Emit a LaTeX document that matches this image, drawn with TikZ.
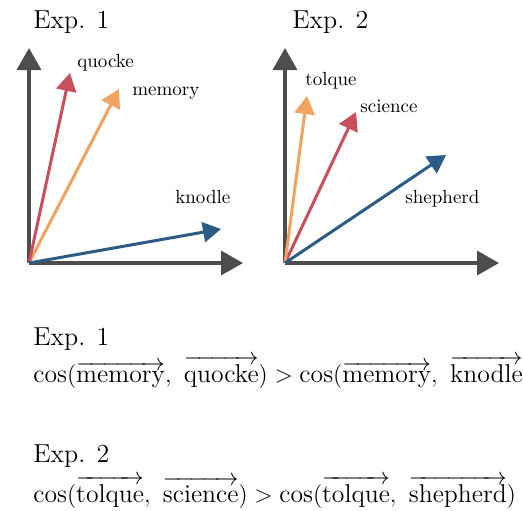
\documentclass[tikz,border=0pt]{standalone}
\usepackage{amsmath}
\usepackage{fontspec}
\usetikzlibrary{arrows.meta}
\definecolor{cred}{HTML}{C8505D}
\definecolor{corange}{HTML}{F0A35E}
\definecolor{cblue}{HTML}{2C5C85}
\definecolor{caxis}{HTML}{4D4D4D}
\newcommand{\wv}[1]{\overrightarrow{\text{#1}}}
\tikzset{
  axis/.style={draw=caxis, line width=1.75pt, -{Triangle[width=12pt,length=11pt]}, caxis},
  vec/.style={line width=1.5pt, -{Triangle[width=10pt,length=9pt]}},
  lbl/.style={anchor=base west, inner sep=0pt, font=\fontsize{9.5}{11}\selectfont},
  ttl/.style={anchor=base west, inner sep=0pt, font=\fontsize{13}{15}\selectfont},
  frm/.style={anchor=base west, inner sep=0pt, font=\fontsize{12.85}{15}\selectfont},
}
\begin{document}
\begin{tikzpicture}[x=0.5pt,y=-0.5pt]
\useasboundingbox (0,0) rectangle (523,510);
% Panel 1
\node[ttl] (t1) at (33,28) {Exp. 1};
\coordinate (O1) at (29,263);
\coordinate (Y1) at (29,48);
\coordinate (X1) at (243,263);
\draw[axis] (O1) -- (Y1);
\draw[axis] (O1) -- (X1);
\coordinate (q) at (70,73);
\coordinate (m) at (119,89);
\coordinate (k) at (221,229);
\draw[vec, corange] (O1) -- (m);
\draw[vec, cred] (O1) -- (q);
\draw[vec, cblue] (O1) -- (k);
\node[lbl] (lq) at (77,67) {quocke};
\node[lbl] (lm) at (132,95) {memory};
\node[lbl] (lk) at (175,203) {knodle};
% Panel 2
\node[ttl] (t2) at (292,28) {Exp. 2};
\coordinate (O2) at (285,263);
\coordinate (Y2) at (285,48);
\coordinate (X2) at (499,263);
\draw[axis] (O2) -- (Y2);
\draw[axis] (O2) -- (X2);
\coordinate (tq) at (307,96);
\coordinate (sc) at (356,112);
\coordinate (sh) at (446,155);
\draw[vec, cred] (O2) -- (sc);
\draw[vec, corange] (O2) -- (tq);
\draw[vec, cblue] (O2) -- (sh);
\node[lbl] (ltq) at (305,85) {tolque};
\node[lbl] (lsc) at (360,112) {science};
\node[lbl] (lsh) at (405,203) {shepherd};
% Formulas
\node[ttl] (e1) at (33,345) {Exp. 1};
\node[frm] (f1) at (33,382) {$\cos(\wv{memory},\ \wv{quocke}) > \cos(\wv{memory},\ \wv{knodle})$};
\node[ttl] (e2) at (33,462) {Exp. 2};
\node[frm] (f2) at (33,502) {$\cos(\wv{tolque},\ \wv{science}) > \cos(\wv{tolque},\ \wv{shepherd})$};
\end{tikzpicture}
\end{document}
